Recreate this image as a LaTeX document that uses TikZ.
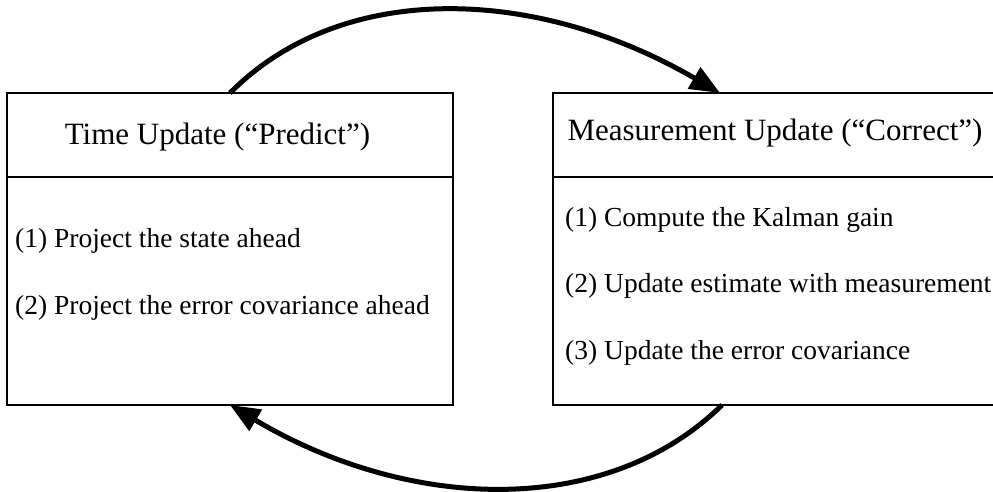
\documentclass[tikz,border=0pt]{standalone}
\usepackage{fontspec}
\setmainfont{Liberation Serif}
\usetikzlibrary{arrows.meta}
\begin{document}
\begin{tikzpicture}[x=1pt,y=-1pt,
  frame/.style={draw=black, line width=1.8pt, inner sep=0pt, outer sep=0pt},
  head/.style={font=\fontsize{31}{36}\selectfont, anchor=base, inner sep=0pt},
  item/.style={font=\fontsize{27.5}{32}\selectfont, anchor=base west, inner sep=0pt},
  flow/.style={line width=5pt, -{Triangle[length=30pt,width=24pt]}}]
\useasboundingbox (0,0) rectangle (993,491);
\clip (0,0) rectangle (993,491);

% time update block
\node[frame, minimum width=446pt, minimum height=84pt]  (tuhead) at (230,135) {};
\node[frame, minimum width=446pt, minimum height=228pt] (tubody) at (230,291) {};
\node[head] (tutitle) at (217.5,144) {Time Update (“Predict”)};
\node[item] (tu1) at (15,247) {(1) Project the state ahead};
\node[item] (tu2) at (15,314) {(2) Project the error covariance ahead};

% measurement update block (runs past the right edge)
\node[frame, minimum width=447pt, minimum height=84pt]  (muhead) at (776.5,135) {};
\node[frame, minimum width=447pt, minimum height=228pt] (mubody) at (776.5,291) {};
\node[head] (mutitle) at (775,140) {Measurement Update (“Correct”)};
\node[item] (mu1) at (565,226) {(1) Compute the Kalman gain};
\node[item] (mu2) at (565,292) {(2) Update estimate with measurement};
\node[item] (mu3) at (565,359) {(3) Update the error covariance};

% predict -> correct -> predict loop
\coordinate (muin)  at ([xshift=167pt]muhead.north west);
\coordinate (muout) at ([xshift=169pt]mubody.south west);
\draw[flow] (tuhead.north) .. controls (343,-21) and (538,-13) .. (muin);
\draw[flow] (muout) .. controls (607,518) and (410,512) .. (tubody.south);
\end{tikzpicture}
\end{document}
